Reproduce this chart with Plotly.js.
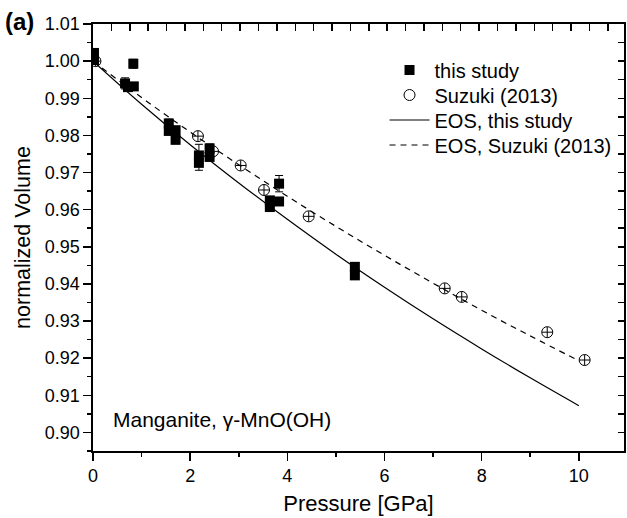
<!DOCTYPE html>
<html><head><meta charset="utf-8">
<script src="https://cdn.plot.ly/plotly-3.0.1.min.js"></script>
<style>html,body{margin:0;padding:0;background:#fff}</style>
</head><body>
<div id="chart" style="width:627px;height:518px"></div>
<script>
// this study (data points with volume uncertainty)
const studyP   = [0.02, 0.02, 0.66, 0.72, 0.84, 0.83, 1.56, 1.56, 1.70, 1.70, 2.18, 2.18, 2.40, 2.40, 3.64, 3.64, 3.83, 3.83, 5.39, 5.39];
const studyV   = [1.0022, 1.0003, 0.9940, 0.9930, 0.9932, 0.9993, 0.9832, 0.9812, 0.9814, 0.9788, 0.9746, 0.9726, 0.9765, 0.9742, 0.9625, 0.9607, 0.9622, 0.9670, 0.9446, 0.9423];
const studyErr = [0.0011, 0.0008, 0.0015, 0.0008, 0.0008, 0.0012, 0.0012, 0.0008, 0.0008, 0.0010, 0.0030, 0.0020, 0.0012, 0.0008, 0.0008, 0.0008, 0.0008, 0.0022, 0.0010, 0.0008];
// Suzuki (2013)
const suzP  = [0.05, 2.16, 2.47, 3.04, 3.52, 4.44, 7.24, 7.59, 9.35, 10.12];
const suzV  = [1.0000, 0.9798, 0.9757, 0.9719, 0.9653, 0.9582, 0.9388, 0.9365, 0.9270, 0.9195];
const suzEP = [0.11, 0.11, 0.11, 0.11, 0.11, 0.11, 0.11, 0.11, 0.11, 0.11];
const suzEV = [0.0014, 0.0014, 0.0014, 0.0014, 0.0014, 0.0014, 0.0014, 0.0014, 0.0014, 0.0014];
// EOS curves
const eosP      = [0, 1, 2, 3, 4, 5, 6, 7, 8, 9, 10];
const eosThis   = [1.0000, 0.9884, 0.9775, 0.9672, 0.9574, 0.9480, 0.9391, 0.9306, 0.9225, 0.9147, 0.9072];
const eosSuzuki = [1.0000, 0.9902, 0.9809, 0.9721, 0.9636, 0.9555, 0.9477, 0.9402, 0.9329, 0.9260, 0.9193];
// ticks
const yTicks = [0.90, 0.91, 0.92, 0.93, 0.94, 0.95, 0.96, 0.97, 0.98, 0.99, 1.00, 1.01];
const xTicks = [0, 2, 4, 6, 8, 10];

const FONT = 'Liberation Sans, Arial, sans-serif';

// legend rows (pixel centre y) -> paper coords
const plotTop = 24, plotH = 427;
const rowY = [70, 95, 120, 145].map(py => 1 - (py - plotTop) / plotH);
const legBase = {x: 0.549, xanchor: 'left', yanchor: 'middle', bgcolor: 'rgba(0,0,0,0)',
                 itemwidth: 40, font: {family: FONT, size: 20, color: '#000'}};

const hidden = {type: 'scatter', mode: 'lines', showlegend: false, hoverinfo: 'skip',
                line: {color: 'rgba(0,0,0,0)', width: 0}};

const traces = [
  {x: studyP, y: studyV, type: 'scatter', mode: 'markers', name: 'this study', legend: 'legend',
   marker: {symbol: 'square', size: 10, color: '#000'},
   error_y: {type: 'data', array: studyErr, visible: true, color: '#000', thickness: 1, width: 4}},
  {x: suzP, y: suzV, type: 'scatter', mode: 'markers', name: 'Suzuki (2013)', legend: 'legend2',
   marker: {symbol: 'circle-open', size: 11, color: '#000', line: {width: 1, color: '#000'}},
   error_x: {type: 'data', array: suzEP, visible: true, color: '#000', thickness: 1, width: 0},
   error_y: {type: 'data', array: suzEV, visible: true, color: '#000', thickness: 1, width: 0}},
  {x: eosP, y: eosThis, type: 'scatter', mode: 'lines', name: 'EOS, this study', legend: 'legend3',
   line: {color: '#000', width: 1.2, shape: 'spline'}},
  {x: eosP, y: eosSuzuki, type: 'scatter', mode: 'lines', name: 'EOS, Suzuki (2013)', legend: 'legend4',
   line: {color: '#000', width: 1.2, dash: '6px,5px', shape: 'spline'}},
  // transparent helper traces so that the tick-only top and right frame axes are drawn
  Object.assign({x: eosP, y: eosThis, xaxis: 'x2', yaxis: 'y'}, hidden),
  Object.assign({x: eosP, y: eosThis, xaxis: 'x', yaxis: 'y2'}, hidden)
];

const layout = {
  width: 627, height: 518,
  margin: {l: 93, r: 3, t: 24, b: 67},
  paper_bgcolor: '#fff', plot_bgcolor: '#fff',
  font: {family: FONT, color: '#000', size: 18},
  showlegend: true,
  legend:  Object.assign({}, legBase, {y: rowY[0]}),
  legend2: Object.assign({}, legBase, {y: rowY[1]}),
  legend3: Object.assign({}, legBase, {y: rowY[2]}),
  legend4: Object.assign({}, legBase, {y: rowY[3]}),
  xaxis: {range: [0, 10.93], tickvals: xTicks, ticktext: xTicks.map(String),
          ticks: 'outside', ticklen: 8, tickwidth: 1.5, tickcolor: '#000',
          minor: {dtick: 1, tick0: 0, ticklen: 4, tickwidth: 1.5, tickcolor: '#000', ticks: 'outside'},
          showline: true, linewidth: 1.6, linecolor: '#000', mirror: true,
          showgrid: false, zeroline: false,
          tickfont: {family: FONT, size: 18},
          title: {text: 'Pressure [GPa]', font: {family: FONT, size: 22}, standoff: 10}},
  yaxis: {range: [0.895, 1.01], tickvals: yTicks, ticktext: yTicks.map(v => v.toFixed(2)),
          ticks: 'outside', ticklen: 8, tickwidth: 1.5, tickcolor: '#000',
          minor: {dtick: 0.005, tick0: 0.9, ticklen: 4, tickwidth: 1.5, tickcolor: '#000', ticks: 'outside'},
          showline: true, linewidth: 1.6, linecolor: '#000', mirror: true,
          showgrid: false, zeroline: false,
          tickfont: {family: FONT, size: 18},
          title: {text: 'normalized Volume', font: {family: FONT, size: 21.5}, standoff: 8}},
  xaxis2: {overlaying: 'x', side: 'top', anchor: 'y', range: [0, 28.88], dtick: 1, tick0: 0,
           autorange: false,
           ticks: 'inside', ticklen: 7, tickwidth: 1.5, tickcolor: '#000',
           showticklabels: false, showgrid: false, zeroline: false, showline: false},
  yaxis2: {overlaying: 'y', side: 'right', anchor: 'x', range: [0.895, 1.01], dtick: 0.005, tick0: 0.9,
           autorange: false,
           ticks: 'inside', ticklen: 6, tickwidth: 1.5, tickcolor: '#000',
           showticklabels: false, showgrid: false, zeroline: false, showline: false},
  annotations: [
    {text: '<b>(a)</b>', xref: 'paper', yref: 'paper', x: -0.170, y: 1.005, xanchor: 'left', yanchor: 'middle',
     showarrow: false, font: {family: FONT, size: 24, color: '#000'}},
    {text: 'Manganite, γ-MnO(OH)', xref: 'paper', yref: 'paper', x: 0.034, y: 0.073, xanchor: 'left', yanchor: 'middle',
     showarrow: false, font: {family: FONT, size: 21, color: '#000'}}
  ]
};

Plotly.newPlot('chart', traces, layout, {staticPlot: true, displayModeBar: false});
</script>
</body></html>
